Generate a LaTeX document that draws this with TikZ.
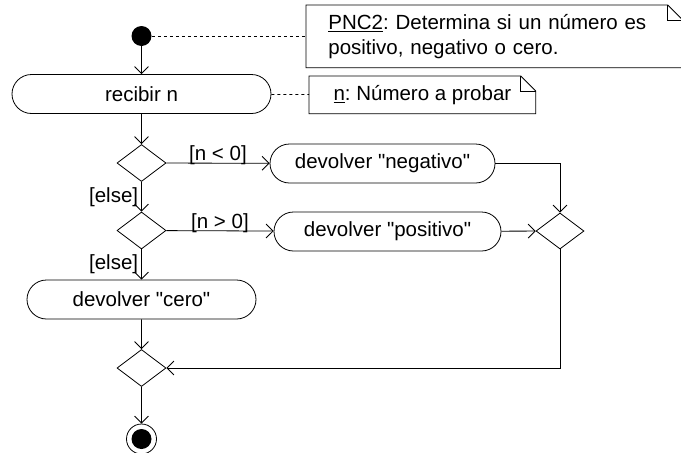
\documentclass[tikz,border=0pt]{standalone}
\usepackage{fontspec}
\setmainfont{Liberation Sans}[Ligatures=TeXOff]
\usetikzlibrary{shapes.geometric, shapes.misc, arrows.meta}
\tikzstyle{arrow} = [->,>={Straight Barb[length=7pt,width=14pt]}]
\tikzstyle{action} = [rounded rectangle, draw, minimum height=39pt, inner sep=0pt]
\tikzstyle{decision} = [diamond, draw, minimum width=49pt, minimum height=37pt, inner sep=0pt]
\tikzstyle{note} = [anchor=north west, align=left, inner ysep=0pt]
\tikzstyle{guard} = [above, inner sep=0pt, yshift=-2pt]
\frenchspacing

\begin{document}
\begin{tikzpicture}[x=1pt, y=-1pt, line width=0.8pt,
  every node/.style={font=\fontsize{20.5}{25}\selectfont}]
\useasboundingbox (0,0) rectangle (681,453);

% --- start and notes ---
\node[circle, fill, minimum size=20pt, inner sep=0pt] (inicio) at (141.5,36) {};

\node[note, text width=332pt, inner xsep=22pt, minimum height=62pt] (pnc) at (306,5)
  {\underline{PNC2}: Determina si un número es\\positivo, negativo o cero.};
\draw (pnc.north west) -- ([xshift=-15pt]pnc.north east) -- ([yshift=-15pt]pnc.north east)
  -- (pnc.south east) -- (pnc.south west) -- cycle;
\draw ([xshift=-15pt]pnc.north east) |- ([yshift=-15pt]pnc.north east);

\node[action, minimum width=259pt] (recibir) at (141.5,94) {recibir n};

\node[note, inner xsep=0pt, minimum width=226pt, minimum height=37pt] (nota) at (309,76)
  {\underline{n}: Número a probar};
\draw (nota.north west) -- ([xshift=-15pt]nota.north east) -- ([yshift=-15pt]nota.north east)
  -- (nota.south east) -- (nota.south west) -- cycle;
\draw ([xshift=-15pt]nota.north east) |- ([yshift=-15pt]nota.north east);

% --- decisions ---
\node[decision] (d1) at (141.5,163) {};
\node[decision] (d2) at (141.5,230.5) {};

\node[action, minimum width=225pt] (neg) at (382.5,163.5) {devolver "negativo"};
\node[action, minimum width=227pt] (pos) at (387.5,231.5) {devolver "positivo"};
\node[action, minimum width=229pt] (cero) at (141.5,299.5) {devolver "cero"};

% --- merges and end ---
\node[decision, minimum width=48pt, minimum height=36pt] (m1) at (560,231) {};
\node[decision] (m2) at (141.5,368) {};
\node[circle, draw, minimum size=30pt, inner sep=0pt,
  path picture={\fill (path picture bounding box.center) circle (10pt);}] (fin) at (141.5,439) {};

% connections
\draw[dashed] (inicio) -- (inicio -| pnc.west);
\draw[dashed] (recibir) -- (nota);
\draw[arrow] (inicio) -- (recibir);
\draw[arrow] (recibir) -- (d1);
\draw[arrow] (d1) -- node[guard] {[n < 0]} (neg);
\draw[arrow] (d1) -- node[left, inner sep=3pt] {[else]} (d2);
\draw[arrow] (d2) -- node[guard] {[n > 0]} (pos);
\draw[arrow] (d2) -- node[left, inner sep=3pt] {[else]} (cero);
\draw[arrow] (neg) -| (m1);
\draw[arrow] (pos) -- (m1);
\draw[arrow] (m1) |- (m2);
\draw[arrow] (cero) -- (m2);
\draw[arrow] (m2) -- (fin);

\end{tikzpicture}
\end{document}
